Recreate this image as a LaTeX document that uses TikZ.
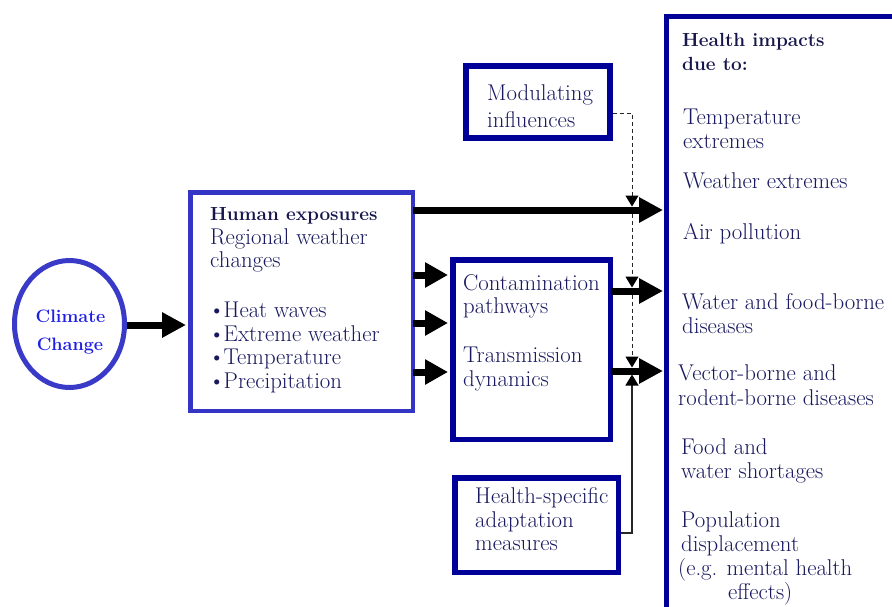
\documentclass[tikz,border=0pt]{standalone}
\usetikzlibrary{arrows.meta,shapes.geometric}

\definecolor{inkblue}{RGB}{24,24,96}
\definecolor{headblue}{RGB}{22,22,76}
\definecolor{ccblue}{RGB}{32,32,228}
\definecolor{ringblue}{RGB}{58,58,200}
\definecolor{lightframe}{RGB}{53,53,197}
\definecolor{darkframe}{RGB}{0,0,153}

\tikzset{
  txt/.style={anchor=base west, inner sep=0pt, text=inkblue,
              font=\fontsize{22.8}{24}\selectfont},
  hd/.style={anchor=base west, inner sep=0pt, text=headblue,
             font=\fontsize{19}{24}\selectfont\bfseries},
  frame/.style={draw=darkframe, line width=5.5pt, rectangle,
                anchor=north west, inner sep=0pt},
  bigarrow/.style={draw=black, line width=7pt,
                   -{Triangle[length=24pt,width=24pt]}},
  midarrow/.style={draw=black, line width=7pt,
                   -{Triangle[length=23pt,width=24pt]}},
  modline/.style={draw=black!85, line width=1pt, dash pattern=on 4pt off 3pt,
                  -{Triangle[length=11pt,width=13pt,color=black]}},
  adline/.style={draw=black!85, line width=1.2pt,
                 -{Triangle[length=11pt,width=13pt,color=black]}},
}
\newcommand{\bul}[1]{\makebox[13.5pt][l]{\hspace{-1.5pt}\textbullet}#1}

\begin{document}
\begin{tikzpicture}[x=1pt,y=-1pt]
\path[use as bounding box, clip] (0,0) rectangle (892,606);
\fill[white] (0,0) rectangle (892,606);

% levels of the connectors
\coordinate (yc) at (0,325);
\coordinate (y1) at (0,210);
\coordinate (y2) at (0,291);
\coordinate (y3) at (0,371);
\coordinate (e1) at (0,275);
\coordinate (e2) at (0,323);
\coordinate (e3) at (0,372);
\coordinate (ym) at (0,113);
\coordinate (ya) at (0,533);
\coordinate (xd) at (632,0);
% edges of the thick lines that the thin lines meet
\coordinate (d1a) at ([yshift=3.5pt]xd |- y1);
\coordinate (d1b) at ([yshift=-3.5pt]xd |- y1);
\coordinate (d2a) at ([yshift=3.5pt]xd |- y2);
\coordinate (d2b) at ([yshift=-3.5pt]xd |- y2);
\coordinate (d3a) at ([yshift=3.5pt]xd |- y3);
\coordinate (d3b) at ([yshift=-3.5pt]xd |- y3);

% Climate change
\node[ellipse, draw=ringblue, line width=5pt, minimum width=110pt,
      minimum height=127pt, inner sep=0pt] (cc) at (69.5,324) {};
\node[anchor=base, inner sep=0pt, text=ccblue,
      font=\fontsize{18}{24}\selectfont\bfseries] (cc1) at (70.5,322.5) {Climate};
\node[anchor=base, inner sep=0pt, text=ccblue,
      font=\fontsize{18}{24}\selectfont\bfseries] (cc2) at (70,350) {Change};

% Human exposures
\node[frame, draw=lightframe, line width=4.5pt, minimum width=222.5pt,
      minimum height=218.5pt] (hx) at (188,190) {};
\node[hd] (hx0) at (210,220) {Human exposures};
\node[txt] (hx1) at (210,244) {Regional weather};
\node[txt] (hx2) at (210,267.5) {changes};
\node[txt] (hx3) at (210,317) {\bul{Heat waves}};
\node[txt] (hx4) at (210,341) {\bul{Extreme weather}};
\node[txt] (hx5) at (210,364.5) {\bul{Temperature}};
\node[txt] (hx6) at (210,388) {\bul{Precipitation}};

% Modulating influences
\node[frame, minimum width=144pt, minimum height=72pt] (mod) at (463,63) {};
\node[txt] (mod1) at (487,100) {Modulating};
\node[txt] (mod2) at (487,127) {influences};

% Contamination / transmission
\node[frame, minimum width=157.5pt, minimum height=179.5pt] (cp) at (450,257) {};
\node[txt] (cp1) at (463,290) {Contamination};
\node[txt] (cp2) at (463,313.5) {pathways};
\node[txt] (cp3) at (463,362) {Transmission};
\node[txt] (cp4) at (463,386) {dynamics};

% Health-specific adaptation
\node[frame, minimum width=163.5pt, minimum height=94.5pt] (ad) at (452,475) {};
\node[txt] (ad1) at (475,503) {Health-specific};
\node[txt] (ad2) at (475,527) {adaptation};
\node[txt] (ad3) at (475,550.5) {measures};

% Health impacts
\node[frame, line width=5pt, minimum width=300pt, minimum height=700pt] (imp) at (664,14) {};
\node[hd] (imp0) at (682,46) {Health impacts};
\node[hd] (imp1) at (682,70) {due to:};
\node[txt] (imp2) at (683,124) {Temperature};
\node[txt] (imp3) at (683,148) {extremes};
\node[txt] (imp4) at (683,188.5) {Weather extremes};
\node[txt] (imp5) at (683,239) {Air pollution};
\node[txt] (imp6) at (682,309) {Water and food-borne};
\node[txt] (imp7) at (682,333.5) {diseases};
\node[txt] (imp8) at (678,380) {Vector-borne and};
\node[txt] (imp9) at (678,405.5) {rodent-borne diseases};
\node[txt] (imp10) at (681,454) {Food and};
\node[txt] (imp11) at (681,478.5) {water shortages};
\node[txt] (imp12) at (681,527.5) {Population};
\node[txt] (imp13) at (681,551.5) {displacement};
\node[txt] (imp14) at (678,575.5) {(e.g. mental health};
\node[txt] (imp15) at (728,599.5) {effects)};

% dashed modulating line and the adaptation line, under the thick arrows
\draw[modline] (mod.east |- ym) -| (d1a);
\draw[modline] (d1b) -- (d2a);
\draw[modline] (d2b) -- (d3a);
\draw[adline] (ad.east |- ya) -| (d3b);

% thick arrows
\draw[bigarrow] (cc.east |- yc) -- ([xshift=-2pt]hx.west |- yc);
\draw[bigarrow] ([xshift=-2pt]hx.east |- y1) -- ([xshift=-1pt]imp.west |- y1);
\draw[midarrow] ([xshift=-2pt]hx.east |- e1) -- ([xshift=-2pt]cp.west |- e1);
\draw[midarrow] ([xshift=-2pt]hx.east |- e2) -- ([xshift=-2pt]cp.west |- e2);
\draw[midarrow] ([xshift=-2pt]hx.east |- e3) -- ([xshift=-2pt]cp.west |- e3);
\draw[bigarrow] ([xshift=-2pt]cp.east |- y2) -- ([xshift=-1pt]imp.west |- y2);
\draw[bigarrow] ([xshift=-2pt]cp.east |- y3) -- ([xshift=-1pt]imp.west |- y3);
\end{tikzpicture}
\end{document}
